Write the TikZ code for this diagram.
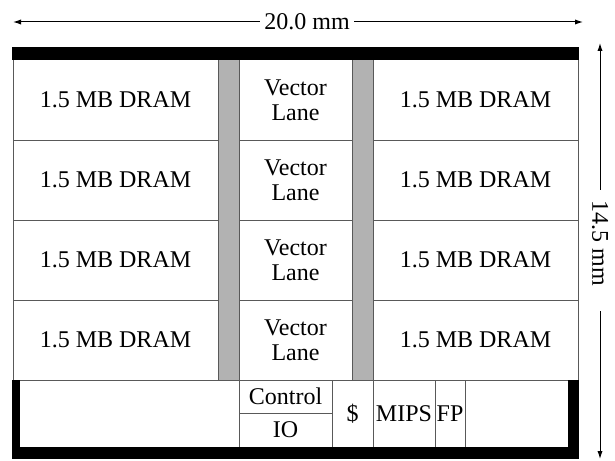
\documentclass[tikz,border=0pt]{standalone}
\usepackage{fontspec}
\setmainfont{Liberation Serif}
\usetikzlibrary{arrows.meta}
\begin{document}
\begin{tikzpicture}[x=0.5pt,y=-0.5pt,
  cell/.style={draw=black!65, line width=0.5pt, fill=white, inner sep=0pt,
               font=\fontsize{12}{12.5}\selectfont, align=center},
  sz/.style 2 args={minimum width=#1, minimum height=#2},
  bus/.style={cell, fill=black!30},
  dram/.style={cell, sz={102.5pt}{40pt}},
  lane/.style={cell, sz={56.5pt}{40pt}},
  dimline/.style={line width=0.5pt, -{Latex[length=4pt,width=2.6pt]}},
  dimtext/.style={font=\fontsize{12}{12.5}\selectfont, inner sep=0pt}
]
\useasboundingbox (0,0) rectangle (615,460);

% memory rows with the vector lanes between them
\foreach \r/\y in {1/100,2/180,3/260,4/340}{
  \node[dram] (dl\r) at (115.5,\y) {1.5 MB DRAM};
  \node[lane] (vl\r) at (295.5,\y) {Vector\\Lane};
  \node[dram] (dr\r) at (475.5,\y) {1.5 MB DRAM};
}

% grey crossbar columns
\node[bus, sz={10.5pt}{160pt}] (busl) at (228.5,220) {};
\node[bus, sz={10.5pt}{160pt}] (busr) at (362.5,220) {};

% scalar unit strip
\node[cell, sz={46.5pt}{16.5pt}] (ctrl) at (285.5,396.5) {Control};
\node[cell, sz={46.5pt}{17pt}]   (io)   at (285.5,430) {IO};
\node[cell, sz={20.5pt}{33.5pt}] (cache) at (352.5,413.5) {\$};
\node[cell, sz={31pt}{33.5pt}]   (mips) at (404,413.5) {MIPS};
\node[cell, sz={15pt}{33.5pt}]   (fp)   at (450,413.5) {FP};

% heavy pad rails
\fill (12,47) rectangle (579,60);
\fill (12,380) rectangle (20,459);
\fill (12,447) rectangle (579,459);
\fill (568,380) rectangle (579,459);

% width dimension
\node[dimtext, inner xsep=2pt] (wlab) at (307,22) {20.0 mm};
\coordinate (wl) at (13,22);
\coordinate (wr) at (583,22);
\draw[dimline] (wlab) -- (wl);
\draw[dimline] (wlab) -- (wr);

% height dimension
\node[dimtext, rotate=-90] (hlab) at (600,243) {14.5 mm};
\coordinate (ht) at (600,43);
\coordinate (hb) at (600,459);
\draw[dimline, shorten <=5pt] (hlab) -- (ht);
\draw[dimline, shorten <=12.5pt] (hlab) -- (hb);
\end{tikzpicture}
\end{document}
